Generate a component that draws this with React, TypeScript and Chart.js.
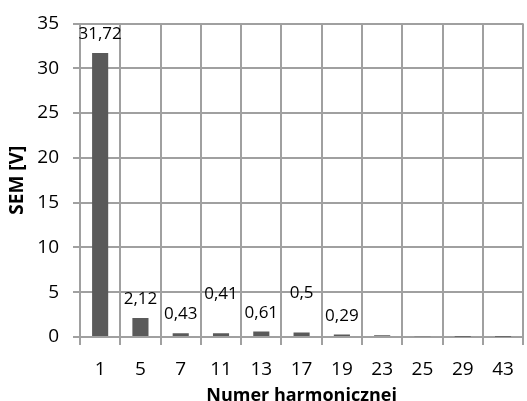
import React, { useEffect, useRef } from "react";
import { Chart, registerables } from "chart.js";

Chart.register(...registerables);

const categories = ["1", "5", "7", "11", "13", "17", "19", "23", "25", "29", "43"];
const semValues = [31.72, 2.12, 0.43, 0.41, 0.61, 0.5, 0.29, 0.2, 0.07, 0.03, 0.02];
const valueLabels = ["31,72", "2,12", "0,43", "0,41", "0,61", "0,5", "0,29", "", "", "", ""];
const yTicks = [0, 5, 10, 15, 20, 25, 30, 35];

const FONT = "'Open Sans', Lato, sans-serif";

const labelPlugin = {
  id: "valueLabels",
  afterDatasetsDraw(chart: any) {
    const ctx = chart.ctx;
    const meta = chart.getDatasetMeta(0);
    ctx.save();
    ctx.font = `17px ${FONT}`;
    ctx.fillStyle = "#000";
    ctx.textAlign = "center";
    ctx.textBaseline = "middle";
    const lineH = 20;
    let prev: { x: number; y: number; w: number } | null = null;
    meta.data.forEach((bar: any, i: number) => {
      const txt = valueLabels[i];
      if (!txt) return;
      const w = ctx.measureText(txt).width;
      let y = bar.y - 18.5;
      if (prev) {
        const hGap = Math.abs(bar.x - prev.x) - (w + prev.w) / 2;
        const vOverlap = Math.abs(y - prev.y) < 14;
        if (hGap < 15 && vOverlap) y = prev.y - lineH;
      }
      ctx.fillText(txt, bar.x, y);
      prev = { x: bar.x, y, w };
    });
    ctx.restore();
  },
};

export default function App() {
  const ref = useRef<HTMLCanvasElement | null>(null);
  useEffect(() => {
    if (!ref.current) return;
    const chart = new Chart(ref.current, {
      type: "bar",
      data: {
        labels: categories,
        datasets: [
          {
            data: semValues,
            backgroundColor: "#5a5a5a",
            borderWidth: 0,
            categoryPercentage: 1,
            barPercentage: 0.4,
          },
        ],
      },
      options: {
        animation: false,
        responsive: false,
        devicePixelRatio: 1,
        layout: { padding: { top: 20, right: 2, bottom: 0, left: 0 } },
        plugins: { legend: { display: false }, tooltip: { enabled: false } },
        scales: {
          x: {
            offset: true,
            grid: {
              offset: true,
              color: "#a0a0a0",
              lineWidth: 2,
              drawTicks: true,
              tickLength: 8,
            },
            border: { color: "#a0a0a0", width: 2 },
            ticks: {
              color: "#000",
              font: { family: FONT, size: 19 },
              padding: 13,
              maxRotation: 0,
              autoSkip: false,
            },
            title: {
              display: true,
              text: "Numer harmonicznej",
              color: "#000",
              font: { family: FONT, size: 18, weight: "bold" },
              padding: { top: 0, bottom: -6 },
            },
            afterFit(scale: any) {
              scale.height = 64;
            },
          },
          y: {
            min: 0,
            max: 35,
            afterBuildTicks(scale: any) {
              scale.ticks = yTicks.map((v) => ({ value: v }));
            },
            grid: {
              color: "#a0a0a0",
              lineWidth: 2,
              drawTicks: true,
              tickLength: 7,
            },
            border: { color: "#a0a0a0", width: 2 },
            ticks: {
              color: "#000",
              font: { family: FONT, size: 19, lineHeight: 1 },
              padding: 14,
            },
            title: {
              display: true,
              text: "SEM [V]",
              color: "#000",
              font: { family: FONT, size: 19, weight: "bold" },
              padding: { top: 6, bottom: 0 },
            },
            afterFit(scale: any) {
              scale.width = 80;
            },
          },
        },
      },
      plugins: [labelPlugin],
    });
    return () => chart.destroy();
  }, []);
  return (
    <div style={{ position: "absolute", left: 0, top: 0, width: 527, height: 401, background: "#fff" }}>
      <canvas ref={ref} width={527} height={401} style={{ width: 527, height: 401 }} />
    </div>
  );
}
